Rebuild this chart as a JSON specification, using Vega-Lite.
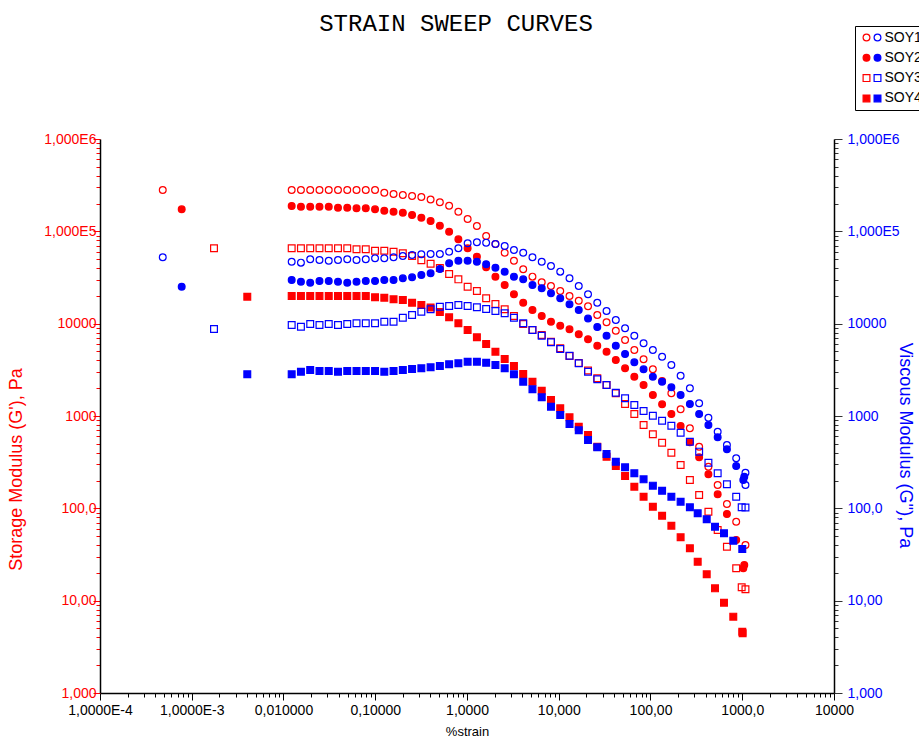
{
  "$schema": "https://vega.github.io/schema/vega-lite/v6.json",
  "width": 734,
  "height": 554,
  "autosize": {"type": "none"},
  "padding": {"left": 100, "top": 139, "right": 85, "bottom": 45},
  "background": "white",
  "config": {"view": {"stroke": null}, "axis": {"grid": false}},
  "title": {"text": "STRAIN SWEEP CURVES", "font": "Liberation Mono", "fontSize": 24, "fontWeight": "normal", "color": "black", "anchor": "middle", "frame": "group", "dx": -11, "dy": 14},
  "datasets": {
    "rows": [
      {"sample":"SOY1","strain":0.000483,"Gp":280500,"Gpp":52360},
      {"sample":"SOY1","strain":0.01228,"Gp":280500,"Gpp":46900},
      {"sample":"SOY1","strain":0.01549,"Gp":280500,"Gpp":45800},
      {"sample":"SOY1","strain":0.01955,"Gp":280500,"Gpp":49800},
      {"sample":"SOY1","strain":0.02467,"Gp":280500,"Gpp":48900},
      {"sample":"SOY1","strain":0.03112,"Gp":280500,"Gpp":48100},
      {"sample":"SOY1","strain":0.03926,"Gp":280500,"Gpp":48900},
      {"sample":"SOY1","strain":0.04953,"Gp":280500,"Gpp":49800},
      {"sample":"SOY1","strain":0.06249,"Gp":280500,"Gpp":48900},
      {"sample":"SOY1","strain":0.07883,"Gp":280500,"Gpp":49800},
      {"sample":"SOY1","strain":0.09947,"Gp":280500,"Gpp":51100},
      {"sample":"SOY1","strain":0.1255,"Gp":262200,"Gpp":51100},
      {"sample":"SOY1","strain":0.1583,"Gp":253800,"Gpp":52400},
      {"sample":"SOY1","strain":0.1998,"Gp":247600,"Gpp":54100},
      {"sample":"SOY1","strain":0.252,"Gp":241500,"Gpp":55400},
      {"sample":"SOY1","strain":0.318,"Gp":235500,"Gpp":56400},
      {"sample":"SOY1","strain":0.4012,"Gp":221300,"Gpp":56800},
      {"sample":"SOY1","strain":0.5061,"Gp":206400,"Gpp":56800},
      {"sample":"SOY1","strain":0.6386,"Gp":189600,"Gpp":60200},
      {"sample":"SOY1","strain":0.8054,"Gp":163200,"Gpp":65500},
      {"sample":"SOY1","strain":1.016,"Gp":136000,"Gpp":74200},
      {"sample":"SOY1","strain":1.282,"Gp":114300,"Gpp":76100},
      {"sample":"SOY1","strain":1.617,"Gp":89000,"Gpp":75400},
      {"sample":"SOY1","strain":2.041,"Gp":72900,"Gpp":72900},
      {"sample":"SOY1","strain":2.575,"Gp":58700,"Gpp":69400},
      {"sample":"SOY1","strain":3.248,"Gp":48100,"Gpp":62800},
      {"sample":"SOY1","strain":4.099,"Gp":38800,"Gpp":58700},
      {"sample":"SOY1","strain":5.17,"Gp":32300,"Gpp":52400},
      {"sample":"SOY1","strain":6.523,"Gp":28100,"Gpp":46900},
      {"sample":"SOY1","strain":8.229,"Gp":25600,"Gpp":42100},
      {"sample":"SOY1","strain":10.38,"Gp":22600,"Gpp":36600},
      {"sample":"SOY1","strain":13.1,"Gp":19940,"Gpp":31000},
      {"sample":"SOY1","strain":16.52,"Gp":17740,"Gpp":25600},
      {"sample":"SOY1","strain":20.85,"Gp":15420,"Gpp":20860},
      {"sample":"SOY1","strain":26.3,"Gp":12420,"Gpp":16880},
      {"sample":"SOY1","strain":33.19,"Gp":10350,"Gpp":13720},
      {"sample":"SOY1","strain":41.87,"Gp":8395,"Gpp":10960},
      {"sample":"SOY1","strain":52.82,"Gp":6655,"Gpp":8913},
      {"sample":"SOY1","strain":66.64,"Gp":5187,"Gpp":7411},
      {"sample":"SOY1","strain":84.06,"Gp":4114,"Gpp":6131},
      {"sample":"SOY1","strain":106.1,"Gp":3205,"Gpp":5187},
      {"sample":"SOY1","strain":133.8,"Gp":2394,"Gpp":4389},
      {"sample":"SOY1","strain":168.8,"Gp":1762,"Gpp":3568},
      {"sample":"SOY1","strain":213,"Gp":1182,"Gpp":2733},
      {"sample":"SOY1","strain":268.7,"Gp":736,"Gpp":1996},
      {"sample":"SOY1","strain":339,"Gp":465,"Gpp":1373},
      {"sample":"SOY1","strain":427.8,"Gp":282.5,"Gpp":959},
      {"sample":"SOY1","strain":539.7,"Gp":179,"Gpp":676},
      {"sample":"SOY1","strain":680.8,"Gp":111.4,"Gpp":485},
      {"sample":"SOY1","strain":859,"Gp":71.7,"Gpp":348},
      {"sample":"SOY1","strain":1084,"Gp":40.1,"Gpp":243},
      {"sample":"SOY1","strain":1084,"Gp":null,"Gpp":179},

      {"sample":"SOY2","strain":0.000777,"Gp":173300,"Gpp":25150},
      {"sample":"SOY2","strain":0.01228,"Gp":188200,"Gpp":29720},
      {"sample":"SOY2","strain":0.01549,"Gp":184900,"Gpp":28500},
      {"sample":"SOY2","strain":0.01955,"Gp":184900,"Gpp":27800},
      {"sample":"SOY2","strain":0.02467,"Gp":184900,"Gpp":29000},
      {"sample":"SOY2","strain":0.03112,"Gp":184900,"Gpp":29000},
      {"sample":"SOY2","strain":0.03926,"Gp":180400,"Gpp":28500},
      {"sample":"SOY2","strain":0.04953,"Gp":180400,"Gpp":27800},
      {"sample":"SOY2","strain":0.06249,"Gp":177700,"Gpp":28500},
      {"sample":"SOY2","strain":0.07883,"Gp":177700,"Gpp":29000},
      {"sample":"SOY2","strain":0.09947,"Gp":173300,"Gpp":29000},
      {"sample":"SOY2","strain":0.1255,"Gp":167400,"Gpp":29720},
      {"sample":"SOY2","strain":0.1583,"Gp":163200,"Gpp":29720},
      {"sample":"SOY2","strain":0.1998,"Gp":159200,"Gpp":31000},
      {"sample":"SOY2","strain":0.252,"Gp":150300,"Gpp":31800},
      {"sample":"SOY2","strain":0.318,"Gp":140500,"Gpp":33700},
      {"sample":"SOY2","strain":0.4012,"Gp":129400,"Gpp":35100},
      {"sample":"SOY2","strain":0.5061,"Gp":115100,"Gpp":39100},
      {"sample":"SOY2","strain":0.6386,"Gp":99100,"Gpp":45100},
      {"sample":"SOY2","strain":0.8054,"Gp":82000,"Gpp":48100},
      {"sample":"SOY2","strain":1.016,"Gp":65500,"Gpp":48100},
      {"sample":"SOY2","strain":1.282,"Gp":53100,"Gpp":46900},
      {"sample":"SOY2","strain":1.617,"Gp":40800,"Gpp":44000},
      {"sample":"SOY2","strain":2.041,"Gp":32300,"Gpp":40400},
      {"sample":"SOY2","strain":2.575,"Gp":26200,"Gpp":36600},
      {"sample":"SOY2","strain":3.248,"Gp":20810,"Gpp":32300},
      {"sample":"SOY2","strain":4.099,"Gp":16880,"Gpp":30200},
      {"sample":"SOY2","strain":5.17,"Gp":14070,"Gpp":26200},
      {"sample":"SOY2","strain":6.523,"Gp":12110,"Gpp":24200},
      {"sample":"SOY2","strain":8.229,"Gp":10510,"Gpp":21300},
      {"sample":"SOY2","strain":10.38,"Gp":9508,"Gpp":18830},
      {"sample":"SOY2","strain":13.1,"Gp":8693,"Gpp":16220},
      {"sample":"SOY2","strain":16.52,"Gp":7691,"Gpp":14070},
      {"sample":"SOY2","strain":20.85,"Gp":6791,"Gpp":11350},
      {"sample":"SOY2","strain":26.3,"Gp":5775,"Gpp":9204},
      {"sample":"SOY2","strain":33.19,"Gp":4972,"Gpp":7411},
      {"sample":"SOY2","strain":41.87,"Gp":4043,"Gpp":5775},
      {"sample":"SOY2","strain":52.82,"Gp":3287,"Gpp":4695},
      {"sample":"SOY2","strain":66.64,"Gp":2666,"Gpp":3817},
      {"sample":"SOY2","strain":84.06,"Gp":2167,"Gpp":3205},
      {"sample":"SOY2","strain":106.1,"Gp":1689,"Gpp":2666},
      {"sample":"SOY2","strain":133.8,"Gp":1339,"Gpp":2353},
      {"sample":"SOY2","strain":168.8,"Gp":1051,"Gpp":2046},
      {"sample":"SOY2","strain":213,"Gp":779,"Gpp":1689},
      {"sample":"SOY2","strain":268.7,"Gp":519,"Gpp":1349},
      {"sample":"SOY2","strain":339,"Gp":357,"Gpp":1051},
      {"sample":"SOY2","strain":427.8,"Gp":234,"Gpp":799},
      {"sample":"SOY2","strain":539.7,"Gp":142,"Gpp":588},
      {"sample":"SOY2","strain":680.8,"Gp":86.8,"Gpp":436},
      {"sample":"SOY2","strain":859,"Gp":45.4,"Gpp":287},
      {"sample":"SOY2","strain":1052,"Gp":24.3,"Gpp":220},
      {"sample":"SOY2","strain":1027,"Gp":22.4,"Gpp":203},

      {"sample":"SOY3","strain":0.001748,"Gp":65500,"Gpp":8760},
      {"sample":"SOY3","strain":0.01228,"Gp":65500,"Gpp":9676},
      {"sample":"SOY3","strain":0.01549,"Gp":65500,"Gpp":9276},
      {"sample":"SOY3","strain":0.01955,"Gp":65500,"Gpp":9920},
      {"sample":"SOY3","strain":0.02467,"Gp":65500,"Gpp":9676},
      {"sample":"SOY3","strain":0.03112,"Gp":65500,"Gpp":9920},
      {"sample":"SOY3","strain":0.03926,"Gp":65500,"Gpp":9676},
      {"sample":"SOY3","strain":0.04953,"Gp":65500,"Gpp":9920},
      {"sample":"SOY3","strain":0.06249,"Gp":63900,"Gpp":10095},
      {"sample":"SOY3","strain":0.07883,"Gp":63900,"Gpp":10095},
      {"sample":"SOY3","strain":0.09947,"Gp":61700,"Gpp":10095},
      {"sample":"SOY3","strain":0.1255,"Gp":61700,"Gpp":10510},
      {"sample":"SOY3","strain":0.1583,"Gp":60200,"Gpp":10510},
      {"sample":"SOY3","strain":0.1998,"Gp":57800,"Gpp":11610},
      {"sample":"SOY3","strain":0.252,"Gp":54100,"Gpp":12420},
      {"sample":"SOY3","strain":0.318,"Gp":48600,"Gpp":13490},
      {"sample":"SOY3","strain":0.4012,"Gp":44600,"Gpp":14310},
      {"sample":"SOY3","strain":0.5061,"Gp":40100,"Gpp":15270},
      {"sample":"SOY3","strain":0.6386,"Gp":34500,"Gpp":15540},
      {"sample":"SOY3","strain":0.8054,"Gp":30200,"Gpp":15930},
      {"sample":"SOY3","strain":1.016,"Gp":25150,"Gpp":15540},
      {"sample":"SOY3","strain":1.282,"Gp":22600,"Gpp":15040},
      {"sample":"SOY3","strain":1.617,"Gp":18830,"Gpp":14420},
      {"sample":"SOY3","strain":2.041,"Gp":16340,"Gpp":13720},
      {"sample":"SOY3","strain":2.575,"Gp":14310,"Gpp":12960},
      {"sample":"SOY3","strain":3.248,"Gp":12110,"Gpp":11610},
      {"sample":"SOY3","strain":4.099,"Gp":9920,"Gpp":10095},
      {"sample":"SOY3","strain":5.17,"Gp":8542,"Gpp":8542},
      {"sample":"SOY3","strain":6.523,"Gp":7542,"Gpp":7411},
      {"sample":"SOY3","strain":8.229,"Gp":6380,"Gpp":6285},
      {"sample":"SOY3","strain":10.38,"Gp":5412,"Gpp":5318},
      {"sample":"SOY3","strain":13.1,"Gp":4466,"Gpp":4500},
      {"sample":"SOY3","strain":16.52,"Gp":3751,"Gpp":3723},
      {"sample":"SOY3","strain":20.85,"Gp":3111,"Gpp":3020},
      {"sample":"SOY3","strain":26.3,"Gp":2561,"Gpp":2498},
      {"sample":"SOY3","strain":33.19,"Gp":2167,"Gpp":2167},
      {"sample":"SOY3","strain":41.87,"Gp":1762,"Gpp":1788},
      {"sample":"SOY3","strain":52.82,"Gp":1349,"Gpp":1555},
      {"sample":"SOY3","strain":66.64,"Gp":1051,"Gpp":1316},
      {"sample":"SOY3","strain":84.06,"Gp":799,"Gpp":1133},
      {"sample":"SOY3","strain":106.1,"Gp":634,"Gpp":1008},
      {"sample":"SOY3","strain":133.8,"Gp":514,"Gpp":889},
      {"sample":"SOY3","strain":168.8,"Gp":400,"Gpp":785},
      {"sample":"SOY3","strain":213,"Gp":295,"Gpp":659},
      {"sample":"SOY3","strain":268.7,"Gp":203,"Gpp":527},
      {"sample":"SOY3","strain":339,"Gp":139.5,"Gpp":411},
      {"sample":"SOY3","strain":427.8,"Gp":91.9,"Gpp":312},
      {"sample":"SOY3","strain":539.7,"Gp":58.3,"Gpp":240},
      {"sample":"SOY3","strain":680.8,"Gp":38.4,"Gpp":182},
      {"sample":"SOY3","strain":859,"Gp":22.4,"Gpp":133.7},
      {"sample":"SOY3","strain":986,"Gp":13.96,"Gpp":102.6},
      {"sample":"SOY3","strain":1084,"Gp":13.3,"Gpp":102},

      {"sample":"SOY4","strain":0.00403,"Gp":19600,"Gpp":2829},
      {"sample":"SOY4","strain":0.01228,"Gp":19940,"Gpp":2829},
      {"sample":"SOY4","strain":0.01549,"Gp":19940,"Gpp":3020},
      {"sample":"SOY4","strain":0.01955,"Gp":19940,"Gpp":3150},
      {"sample":"SOY4","strain":0.02467,"Gp":19940,"Gpp":3073},
      {"sample":"SOY4","strain":0.03112,"Gp":19940,"Gpp":3073},
      {"sample":"SOY4","strain":0.03926,"Gp":19940,"Gpp":3020},
      {"sample":"SOY4","strain":0.04953,"Gp":19940,"Gpp":3073},
      {"sample":"SOY4","strain":0.06249,"Gp":19940,"Gpp":3073},
      {"sample":"SOY4","strain":0.07883,"Gp":19940,"Gpp":3073},
      {"sample":"SOY4","strain":0.09947,"Gp":19310,"Gpp":3073},
      {"sample":"SOY4","strain":0.1255,"Gp":19110,"Gpp":3020},
      {"sample":"SOY4","strain":0.1583,"Gp":18370,"Gpp":3073},
      {"sample":"SOY4","strain":0.1998,"Gp":18050,"Gpp":3150},
      {"sample":"SOY4","strain":0.252,"Gp":16880,"Gpp":3229},
      {"sample":"SOY4","strain":0.318,"Gp":15930,"Gpp":3287},
      {"sample":"SOY4","strain":0.4012,"Gp":14970,"Gpp":3370},
      {"sample":"SOY4","strain":0.5061,"Gp":13380,"Gpp":3480},
      {"sample":"SOY4","strain":0.6386,"Gp":11720,"Gpp":3631},
      {"sample":"SOY4","strain":0.8054,"Gp":10095,"Gpp":3723},
      {"sample":"SOY4","strain":1.016,"Gp":8542,"Gpp":3874},
      {"sample":"SOY4","strain":1.282,"Gp":7119,"Gpp":3874},
      {"sample":"SOY4","strain":1.617,"Gp":6025,"Gpp":3780},
      {"sample":"SOY4","strain":2.041,"Gp":4972,"Gpp":3568},
      {"sample":"SOY4","strain":2.575,"Gp":4144,"Gpp":3287},
      {"sample":"SOY4","strain":3.248,"Gp":3480,"Gpp":2829},
      {"sample":"SOY4","strain":4.099,"Gp":2851,"Gpp":2353},
      {"sample":"SOY4","strain":5.17,"Gp":2353,"Gpp":1947},
      {"sample":"SOY4","strain":6.523,"Gp":1880,"Gpp":1594},
      {"sample":"SOY4","strain":8.229,"Gp":1491,"Gpp":1262},
      {"sample":"SOY4","strain":10.38,"Gp":1212,"Gpp":1025},
      {"sample":"SOY4","strain":13.1,"Gp":968,"Gpp":819},
      {"sample":"SOY4","strain":16.52,"Gp":766,"Gpp":700},
      {"sample":"SOY4","strain":20.85,"Gp":623,"Gpp":550},
      {"sample":"SOY4","strain":26.3,"Gp":465,"Gpp":458},
      {"sample":"SOY4","strain":33.19,"Gp":362,"Gpp":388},
      {"sample":"SOY4","strain":41.87,"Gp":287,"Gpp":320},
      {"sample":"SOY4","strain":52.82,"Gp":224,"Gpp":278},
      {"sample":"SOY4","strain":66.64,"Gp":171.6,"Gpp":240},
      {"sample":"SOY4","strain":84.06,"Gp":133.7,"Gpp":206},
      {"sample":"SOY4","strain":106.1,"Gp":104.2,"Gpp":176},
      {"sample":"SOY4","strain":133.8,"Gp":83.2,"Gpp":155},
      {"sample":"SOY4","strain":168.8,"Gp":64.9,"Gpp":133.7},
      {"sample":"SOY4","strain":213,"Gp":48.6,"Gpp":118},
      {"sample":"SOY4","strain":268.7,"Gp":36.9,"Gpp":102.6},
      {"sample":"SOY4","strain":326.9,"Gp":26.4,"Gpp":88.4},
      {"sample":"SOY4","strain":409.9,"Gp":19.3,"Gpp":76.1},
      {"sample":"SOY4","strain":504.7,"Gp":13.6,"Gpp":63.3},
      {"sample":"SOY4","strain":632.4,"Gp":9.51,"Gpp":53.7},
      {"sample":"SOY4","strain":798.6,"Gp":6.71,"Gpp":44.6},
      {"sample":"SOY4","strain":1001,"Gp":4.61,"Gpp":36.3},
      {"sample":"SOY4","strain":1010,"Gp":4.45,"Gpp":null}
    ]
  },
  "data": {"name": "rows"},
  "encoding": {
    "x": {
      "field": "strain", "type": "quantitative",
      "scale": {"type": "log", "domain": [0.0001, 10000], "nice": false},
      "axis": {
        "values": [0.0001,0.0002,0.0003,0.0004,0.0005,0.0006,0.0007,0.0008,0.0009,0.001,0.002,0.003,0.004,0.005,0.006,0.007,0.008,0.009,0.01,0.02,0.03,0.04,0.05,0.06,0.07,0.08,0.09,0.1,0.2,0.3,0.4,0.5,0.6,0.7,0.8,0.9,1,2,3,4,5,6,7,8,9,10,20,30,40,50,60,70,80,90,100,200,300,400,500,600,700,800,900,1000,2000,3000,4000,5000,6000,7000,8000,9000,10000],
        "labelExpr": "abs(log(datum.value)/LN10 - round(log(datum.value)/LN10)) > 0.01 ? '' : ['1,0000E-4','1,0000E-3','0,010000','0,10000','1,0000','10,000','100,00','1000,0','10000'][round(log(datum.value)/LN10)+4]",
        "title": "%strain",
        "titleFont": "Liberation Sans", "titleFontSize": 13, "titleFontWeight": "normal", "titleColor": "black", "titlePadding": 8,
        "domainColor": "black", "domainWidth": 1.5,
        "tickColor": "black", "tickWidth": 1,
        "tickSize": {"condition": {"test": "abs(log(datum.value)/LN10 - round(log(datum.value)/LN10)) < 0.01", "value": 7}, "value": 4},
        "labelFont": "Liberation Sans", "labelFontSize": 14, "labelColor": "black", "labelPadding": 3,
        "labelOverlap": false, "labelBound": false, "labelFlush": false, "grid": false
      }
    }
  },
  "layer": [
    {
      "mark": {"type": "point", "strokeWidth": 1.2, "size": 46, "opacity": 1},
      "encoding": {
        "y": {
          "field": "Gp", "type": "quantitative",
          "scale": {"type": "log", "domain": [1, 1000000], "nice": false},
          "axis": {
            "orient": "left",
            "values": [1,2,3,4,5,6,7,8,9,10,20,30,40,50,60,70,80,90,100,200,300,400,500,600,700,800,900,1000,2000,3000,4000,5000,6000,7000,8000,9000,10000,20000,30000,40000,50000,60000,70000,80000,90000,100000,200000,300000,400000,500000,600000,700000,800000,900000,1000000],
            "labelExpr": "abs(log(datum.value)/LN10 - round(log(datum.value)/LN10)) > 0.01 ? '' : ['1,000','10,00','100,0','1000','10000','1,000E5','1,000E6'][round(log(datum.value)/LN10)]",
            "title": "Storage Modulus (G'), Pa",
            "titleColor": "#ff0000", "titleFont": "Liberation Sans", "titleFontSize": 18, "titleFontWeight": "normal",
            "titleAngle": 270, "titleAlign": "center", "titleBaseline": "bottom", "titleX": -75, "titleY": 330,
            "domainColor": "black", "domainWidth": 1.5,
            "tickColor": "#ff0000", "tickWidth": 1,
            "tickSize": {"condition": {"test": "abs(log(datum.value)/LN10 - round(log(datum.value)/LN10)) < 0.01", "value": 7}, "value": 4},
            "labelColor": "#ff0000", "labelFont": "Liberation Sans", "labelFontSize": 14, "labelPadding": -3,
            "labelOverlap": false, "labelBound": false, "labelFlush": false, "grid": false
          }
        },
        "shape": {
          "field": "sample", "type": "nominal",
          "scale": {"domain": ["SOY1","SOY2","SOY3","SOY4"], "range": ["circle","circle","square","square"]},
          "legend": {"orient": "none", "legendX": 755, "legendY": -113, "title": null, "padding": 4.5, "strokeColor": "black", "fillColor": "white", "symbolSize": 46, "symbolStrokeWidth": 1.2, "labelFont": "Liberation Sans", "labelFontSize": 14, "labelColor": "black", "labelOffset": 11, "rowPadding": 6.3, "labelLimit": 200}
        },
        "fill": {
          "field": "sample", "type": "nominal",
          "scale": {"domain": ["SOY1","SOY2","SOY3","SOY4"], "range": ["transparent","#ff0000","transparent","#ff0000"]},
          "legend": {"orient": "none", "legendX": 755, "legendY": -113, "title": null, "padding": 4.5, "strokeColor": "black", "fillColor": "white", "symbolSize": 46, "symbolStrokeWidth": 1.2, "labelFont": "Liberation Sans", "labelFontSize": 14, "labelColor": "black", "labelOffset": 11, "rowPadding": 6.3, "labelLimit": 200}
        },
        "stroke": {
          "field": "sample", "type": "nominal",
          "scale": {"domain": ["SOY1","SOY2","SOY3","SOY4"], "range": ["#ff0000","#ff0000","#ff0000","#ff0000"]},
          "legend": {"orient": "none", "legendX": 755, "legendY": -113, "title": null, "padding": 4.5, "strokeColor": "black", "fillColor": "white", "symbolSize": 46, "symbolStrokeWidth": 1.2, "labelFont": "Liberation Sans", "labelFontSize": 14, "labelColor": "black", "labelOffset": 11, "rowPadding": 6.3, "labelLimit": 200}
        }
      }
    },
    {
      "mark": {"type": "point", "strokeWidth": 1.2, "size": 46, "opacity": 1},
      "encoding": {
        "y": {
          "field": "Gpp", "type": "quantitative",
          "scale": {"type": "log", "domain": [1, 1000000], "nice": false},
          "axis": {
            "orient": "right",
            "values": [1,2,3,4,5,6,7,8,9,10,20,30,40,50,60,70,80,90,100,200,300,400,500,600,700,800,900,1000,2000,3000,4000,5000,6000,7000,8000,9000,10000,20000,30000,40000,50000,60000,70000,80000,90000,100000,200000,300000,400000,500000,600000,700000,800000,900000,1000000],
            "labelExpr": "abs(log(datum.value)/LN10 - round(log(datum.value)/LN10)) > 0.01 ? '' : ['1,000','10,00','100,0','1000','10000','1,000E5','1,000E6'][round(log(datum.value)/LN10)]",
            "title": "Viscous Modulus (G''), Pa",
            "titleColor": "#0000ff", "titleFont": "Liberation Sans", "titleFontSize": 18, "titleFontWeight": "normal",
            "titleAngle": 90, "titleAlign": "center", "titleBaseline": "bottom", "titleX": 61, "titleY": 306,
            "domainColor": "black", "domainWidth": 1.5,
            "tickColor": "#333333", "tickWidth": 1,
            "tickSize": {"condition": {"test": "abs(log(datum.value)/LN10 - round(log(datum.value)/LN10)) < 0.01", "value": 8}, "value": 4},
            "labelColor": "#0000ff", "labelFont": "Liberation Sans", "labelFontSize": 14, "labelPadding": 5,
            "labelOverlap": false, "labelBound": false, "labelFlush": false, "grid": false
          }
        },
        "shape": {
          "field": "sample", "type": "nominal",
          "scale": {"domain": ["SOY1","SOY2","SOY3","SOY4"], "range": ["circle","circle","square","square"]},
          "legend": {"orient": "none", "legendX": 766, "legendY": -113, "title": null, "padding": 4.5, "strokeColor": "transparent", "fillColor": "transparent", "symbolSize": 46, "symbolStrokeWidth": 1.2, "labelFont": "Liberation Sans", "labelFontSize": 14, "labelExpr": "' '", "labelOffset": 11, "rowPadding": 6.3}
        },
        "fill": {
          "field": "sample", "type": "nominal",
          "scale": {"domain": ["SOY1","SOY2","SOY3","SOY4"], "range": ["transparent","#0000ff","transparent","#0000ff"]},
          "legend": {"orient": "none", "legendX": 766, "legendY": -113, "title": null, "padding": 4.5, "strokeColor": "transparent", "fillColor": "transparent", "symbolSize": 46, "symbolStrokeWidth": 1.2, "labelFont": "Liberation Sans", "labelFontSize": 14, "labelExpr": "' '", "labelOffset": 11, "rowPadding": 6.3}
        },
        "stroke": {
          "field": "sample", "type": "nominal",
          "scale": {"domain": ["SOY1","SOY2","SOY3","SOY4"], "range": ["#0000ff","#0000ff","#0000ff","#0000ff"]},
          "legend": {"orient": "none", "legendX": 766, "legendY": -113, "title": null, "padding": 4.5, "strokeColor": "transparent", "fillColor": "transparent", "symbolSize": 46, "symbolStrokeWidth": 1.2, "labelFont": "Liberation Sans", "labelFontSize": 14, "labelExpr": "' '", "labelOffset": 11, "rowPadding": 6.3}
        }
      }
    }
  ],
  "resolve": {
    "scale": {"shape": "independent", "fill": "independent", "stroke": "independent", "y": "shared"},
    "axis": {"y": "independent"},
    "legend": {"shape": "independent", "fill": "independent", "stroke": "independent"}
  }
}
